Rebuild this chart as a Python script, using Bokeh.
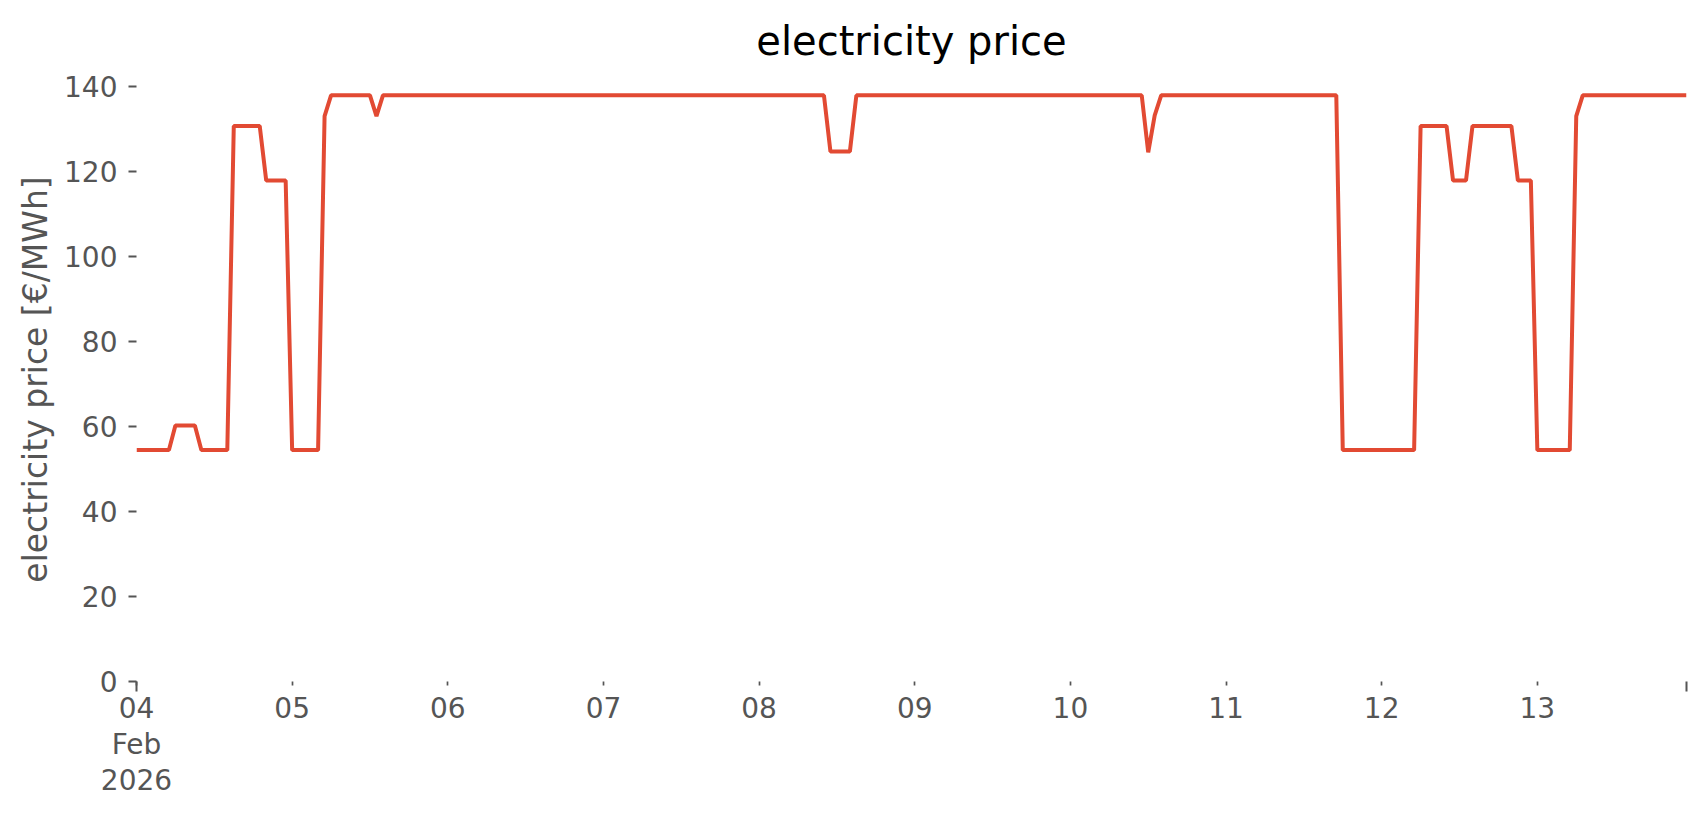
import pandas as pd
from bokeh.plotting import figure
from bokeh.models import FixedTicker, Range1d, ColumnDataSource
from bokeh.embed import file_html
from bokeh.resources import INLINE

# ---------------- data (hourly electricity price, EUR/MWh) ----------------
title_text = "electricity price"
y_label = "electricity price [€/MWh]"
start_time = "2026-02-04 00:00"

feb04 = [54.4, 54.4, 54.4, 54.4, 54.4, 54.4, 60.2, 60.2, 60.2, 60.2, 54.4, 54.4,
         54.4, 54.4, 54.4, 130.6, 130.6, 130.6, 130.6, 130.6, 117.8, 117.8, 117.8, 117.8]
feb05 = [54.4, 54.4, 54.4, 54.4, 54.4, 132.9, 137.8, 137.8, 137.8, 137.8, 137.8, 137.8,
         137.8, 132.9, 137.8, 137.8, 137.8, 137.8, 137.8, 137.8, 137.8, 137.8, 137.8, 137.8]
feb06 = [137.8, 137.8, 137.8, 137.8, 137.8, 137.8, 137.8, 137.8, 137.8, 137.8, 137.8, 137.8,
         137.8, 137.8, 137.8, 137.8, 137.8, 137.8, 137.8, 137.8, 137.8, 137.8, 137.8, 137.8]
feb07 = [137.8, 137.8, 137.8, 137.8, 137.8, 137.8, 137.8, 137.8, 137.8, 137.8, 137.8, 137.8,
         137.8, 137.8, 137.8, 137.8, 137.8, 137.8, 137.8, 137.8, 137.8, 137.8, 137.8, 137.8]
feb08 = [137.8, 137.8, 137.8, 137.8, 137.8, 137.8, 137.8, 137.8, 137.8, 137.8, 137.8, 124.6,
         124.6, 124.6, 124.6, 137.8, 137.8, 137.8, 137.8, 137.8, 137.8, 137.8, 137.8, 137.8]
feb09 = [137.8, 137.8, 137.8, 137.8, 137.8, 137.8, 137.8, 137.8, 137.8, 137.8, 137.8, 137.8,
         137.8, 137.8, 137.8, 137.8, 137.8, 137.8, 137.8, 137.8, 137.8, 137.8, 137.8, 137.8]
feb10 = [137.8, 137.8, 137.8, 137.8, 137.8, 137.8, 137.8, 137.8, 137.8, 137.8, 137.8, 137.8,
         124.4, 133.1, 137.8, 137.8, 137.8, 137.8, 137.8, 137.8, 137.8, 137.8, 137.8, 137.8]
feb11 = [137.8, 137.8, 137.8, 137.8, 137.8, 137.8, 137.8, 137.8, 137.8, 137.8, 137.8, 137.8,
         137.8, 137.8, 137.8, 137.8, 137.8, 137.8, 54.4, 54.4, 54.4, 54.4, 54.4, 54.4]
feb12 = [54.4, 54.4, 54.4, 54.4, 54.4, 54.4, 130.6, 130.6, 130.6, 130.6, 130.6, 117.8,
         117.8, 117.8, 130.6, 130.6, 130.6, 130.6, 130.6, 130.6, 130.6, 117.8, 117.8, 117.8]
feb13 = [54.4, 54.4, 54.4, 54.4, 54.4, 54.4, 132.9, 137.8, 137.8, 137.8, 137.8, 137.8,
         137.8, 137.8, 137.8, 137.8, 137.8, 137.8, 137.8, 137.8, 137.8, 137.8, 137.8, 137.8]

x_tick_labels = ["04\nFeb\n2026", "05", "06", "07", "08", "09", "10", "11", "12", "13"]
y_ticks = [0, 20, 40, 60, 80, 100, 120, 140]

# ---------------- build ----------------
prices = feb04 + feb05 + feb06 + feb07 + feb08 + feb09 + feb10 + feb11 + feb12 + feb13
times = pd.date_range(start_time, periods=len(prices), freq="h")
day_ticks = pd.date_range(start_time, periods=len(x_tick_labels), freq="D")
tick_ms = [float(t.value // 10**6) for t in day_ticks]
edge_ms = [float(times[0].value // 10**6), float(times[-1].value // 10**6)]

src = ColumnDataSource(data=dict(time=times, price=prices))

FONT = "DejaVu Sans"
GREY = "#555555"

p = figure(width=1700, height=800, x_axis_type="datetime",
           x_range=Range1d(times[0], times[-1]), y_range=Range1d(0, 142),
           output_backend="svg", toolbar_location=None, title=title_text,
           min_border_left=136, min_border_right=14,
           min_border_top=77, min_border_bottom=100)

p.line(x="time", y="price", source=src, line_color="#E24A33", line_width=4)

p.background_fill_color = "white"
p.border_fill_color = "white"
p.outline_line_color = None
p.xgrid.visible = False
p.ygrid.visible = False

p.title.text_font = FONT
p.title.text_font_size = "40px"
p.title.text_font_style = "normal"
p.title.text_color = "black"
p.title.align = "center"
p.title.text_line_height = 0.85
p.title.standoff = 28

xa = p.xaxis[0]
xa.ticker = FixedTicker(ticks=tick_ms, minor_ticks=edge_ms)
xa.major_label_overrides = {ms: lab for ms, lab in zip(tick_ms, x_tick_labels)}
xa.axis_line_color = None
xa.major_tick_in = 0
xa.major_tick_out = 4
xa.major_tick_line_width = 1.7
xa.major_tick_line_color = GREY
xa.minor_tick_in = 0
xa.minor_tick_out = 10
xa.minor_tick_line_width = 2
xa.minor_tick_line_color = GREY
xa.major_label_text_font = FONT
xa.major_label_text_font_size = "28px"
xa.major_label_text_line_height = 1.1
xa.major_label_text_color = GREY
xa.major_label_standoff = 0

ya = p.yaxis[0]
ya.ticker = FixedTicker(ticks=y_ticks)
ya.axis_line_color = None
ya.major_tick_in = 0
ya.major_tick_out = 8
ya.major_tick_line_width = 2
ya.major_tick_line_color = GREY
ya.minor_tick_line_color = None
ya.major_label_text_font = FONT
ya.major_label_text_font_size = "28px"
ya.major_label_text_color = GREY
ya.major_label_standoff = 11
ya.axis_label = y_label
ya.axis_label_text_font = FONT
ya.axis_label_text_font_size = "33px"
ya.axis_label_text_font_style = "normal"
ya.axis_label_text_color = GREY
ya.axis_label_standoff = 6

open("out.html", "w").write(file_html(p, INLINE))
